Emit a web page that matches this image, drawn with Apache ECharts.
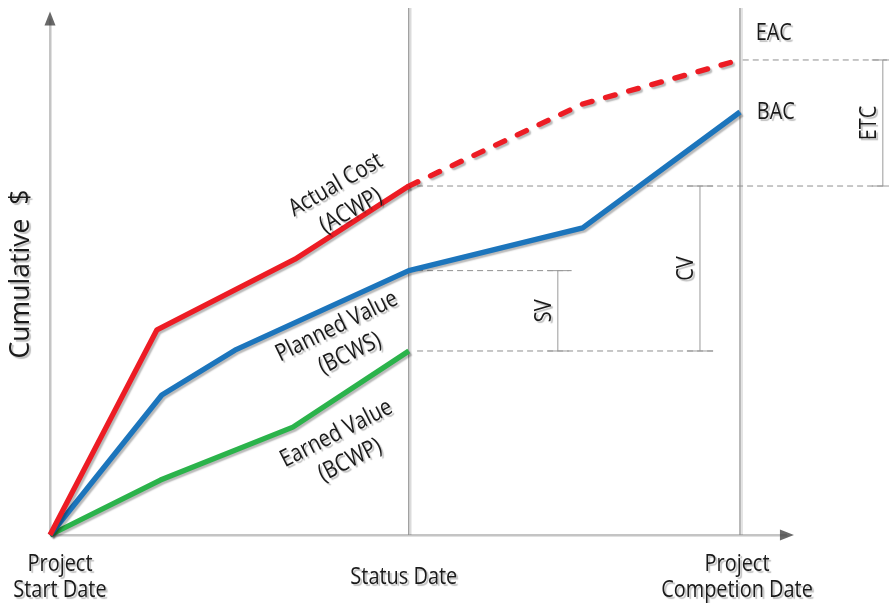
<!DOCTYPE html>
<html><head><meta charset="utf-8">
<script src="https://cdn.jsdelivr.net/npm/echarts@6/dist/echarts.min.js"></script>
<style>html,body{margin:0;padding:0;background:#fff}#c{width:889px;height:603px}</style>
</head><body><div id="c"></div>
<script>
// ---- data ----
const milestoneValues = [0, 52, 100];
const milestoneLabels = ['Project\nStart Date', 'Status Date', 'Project\nCompetion Date'];
const actualCost = [[0, 0], [15.5, 48.5], [35.5, 65.2], [52, 82.5]];
const actualCostForecast = [[52, 82.5], [77.2, 101.9], [98.6, 111.7]];
const plannedValue = [[0, 0], [16.2, 33.1], [26.8, 43.7], [52, 62.5], [77.2, 72.6], [100, 100]];
const earnedValue = [[0, 0], [16, 13], [35.2, 25.5], [52, 43.5]];
const eac = 112.3;
const bac = 100;
const statusX = 52, completionX = 100;
const acAtStatus = 82.5, pvAtStatus = 62.5, evAtStatus = 43.5;
const yTitle = 'Cumulative  $';

// ---- layout ----
const FONT = "'Open Sans', 'Noto Sans', sans-serif";
const TXT = '#1a1a1a';
const svX = 73.6, cvX = 94.2, etcX = 120.7;
const guideEnd = 121.3;
const xAxisEnd = 106.8, yAxisEnd = 122.1, vTop = 124.6;

const shadow = {shadowColor: 'rgba(0,0,0,0.28)', shadowBlur: 1.5, shadowOffsetX: 2, shadowOffsetY: 2};

function seg(data, style, z) {
  return {type: 'line', data: data, symbol: 'none', silent: true, clip: false, animation: false,
    z: z || 1, lineStyle: style};
}
const dashStyle = {color: '#8f8f8f', width: 1, type: [6, 4]};
const dimStyle = {color: '#9a9a9a', width: 1};
const axisStyle = {color: '#c4c4c4', width: 2, shadowColor: 'rgba(0,0,0,0.12)', shadowOffsetX: 1, shadowOffsetY: 1};
const msStyle = {color: '#8a8a8a', width: 1.2, shadowColor: 'rgba(0,0,0,0.18)', shadowOffsetX: 2, shadowOffsetY: 0};
const series = [
  // axes
  seg([[0, 0], [xAxisEnd, 0]], axisStyle),
  seg([[0, 0], [0, yAxisEnd]], axisStyle),
  // milestones
  seg([[statusX, 0], [statusX, vTop]], msStyle),
  seg([[completionX, 0], [completionX, vTop]], msStyle),
  // dashed guides
  seg([[completionX + 0.4, eac], [guideEnd, eac]], dashStyle),
  seg([[statusX + 1.2, acAtStatus], [guideEnd, acAtStatus]], dashStyle),
  seg([[statusX + 1.2, pvAtStatus], [svX + 2, pvAtStatus]], dashStyle),
  seg([[statusX + 1.2, evAtStatus], [cvX + 2.2, evAtStatus]], dashStyle),
  // dimension lines
  seg([[svX, pvAtStatus], [svX, evAtStatus]], dimStyle),
  seg([[svX - 1.5, pvAtStatus], [svX + 1.6, pvAtStatus]], dimStyle),
  seg([[svX - 1.5, evAtStatus], [svX + 1.6, evAtStatus]], dimStyle),
  seg([[cvX, acAtStatus], [cvX, evAtStatus]], dimStyle),
  seg([[cvX - 1.9, acAtStatus], [cvX + 1.9, acAtStatus]], dimStyle),
  seg([[cvX - 1.9, evAtStatus], [cvX + 1.9, evAtStatus]], dimStyle),
  seg([[etcX, eac], [etcX, acAtStatus]], dimStyle),
  seg([[etcX - 1.6, eac], [etcX + 0.9, eac]], dimStyle),
  seg([[etcX - 1.6, acAtStatus], [etcX + 0.9, acAtStatus]], dimStyle),
  // arrow heads
  {type: 'scatter', silent: true, animation: false, z: 3, symbol: 'triangle', symbolSize: [11, 14],
    itemStyle: {color: '#444'},
    data: [{value: [0, yAxisEnd], symbolRotate: 0}, {value: [xAxisEnd, 0], symbolRotate: -90}]},
  // main series
  seg(earnedValue, Object.assign({color: '#2bb34b', width: 5.3}, shadow), 5),
  seg(plannedValue, Object.assign({color: '#1c75bc', width: 5.3}, shadow), 6),
  seg(actualCostForecast, Object.assign({color: '#ed1c24', width: 5.3, type: [10, 14], cap: 'round'}, shadow), 7),
  seg(actualCost, Object.assign({color: '#ed1c24', width: 5.3}, shadow), 8)
];

const chart = echarts.init(document.getElementById('c'), null, {renderer: 'canvas'});
chart.setOption({
  animation: false,
  backgroundColor: '#fff',
  grid: {left: 50, right: 0.65, top: 6.25, bottom: 68, containLabel: false, outerBoundsMode: 'none'},
  xAxis: {
    type: 'value', min: 0, max: 121.5,
    axisLine: {show: false}, axisTick: {show: false}, splitLine: {show: false}, axisLabel: {show: false}
  },
  yAxis: {
    type: 'value', min: 0, max: 125,
    axisLine: {show: false}, axisTick: {show: false}, splitLine: {show: false}, axisLabel: {show: false}
  },
  series: series
});

const TSH = {textShadowColor: 'rgba(0,0,0,0.25)', textShadowBlur: 1, textShadowOffsetX: 2, textShadowOffsetY: 2};
function txt(text, x, y, rot, size, lh, sx, family) {
  return {type: 'text', x: x, y: y, rotation: rot * Math.PI / 180, scaleX: sx, silent: true, z: 20,
    style: Object.assign({text: text, fontSize: size, fontFamily: family || FONT, fill: TXT,
      align: 'center', verticalAlign: 'middle', lineHeight: lh}, TSH)};
}
function px(v) { return chart.convertToPixel({gridIndex: 0}, v); }

const textDefs = [
  {text: 'Actual Cost\n(ACWP)', at: [42.5, 79.7], rot: 30},
  {text: 'Planned Value\n(BCWS)', at: [42.5, 46.1], rot: 26},
  {text: 'Earned Value\n(BCWP)', at: [42.5, 20.8], rot: 27},
  {text: 'EAC', at: [completionX + 4.9, eac + 6.4], rot: 0},
  {text: 'BAC', at: [completionX + 5.2, bac], rot: 0},
  {text: 'ETC', at: [etcX - 2, (eac + acAtStatus) / 2], rot: 90},
  {text: 'CV', at: [cvX - 2, (acAtStatus + evAtStatus) / 2], rot: 90},
  {text: 'SV', at: [svX - 2, (pvAtStatus + evAtStatus) / 2], rot: 90}
];
const labelDx = [10, -5, -3];
const graphics = textDefs.map(function (d) {
  const p = px(d.at);
  return txt(d.text, p[0], p[1], d.rot, 24, 30, 0.83);
});
milestoneValues.forEach(function (v, i) {
  const p = px([v, 0]);
  graphics.push(txt(milestoneLabels[i], p[0] + labelDx[i], p[1] + 42, 0, 24, 26, 0.83));
});
const yt = px([0, 61.7]);
graphics.push(txt(yTitle, yt[0] - 29, yt[1], 90, 28, 30, 0.95));
chart.setOption({graphic: graphics});
</script></body></html>
